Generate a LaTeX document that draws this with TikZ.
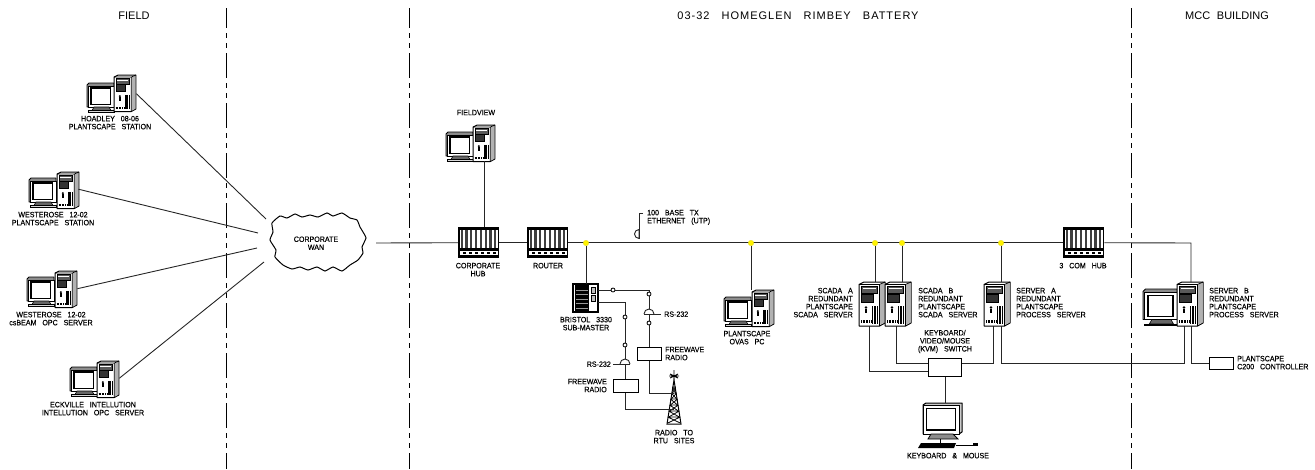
\documentclass[tikz,border=0pt]{standalone}
\usepackage{fontspec}
\usetikzlibrary{calc}
\newfontfamily\cadfont[WordSpace=3,FakeStretch=.92,FakeBold=.15]{Liberation Sans}
\newfontfamily\cadhead[WordSpace=2.2]{Liberation Sans}
\newfontfamily\cadwide[LetterSpace=9,WordSpace=3]{Liberation Sans}
\tikzset{
  lbl/.style={font=\cadfont\fontsize{7.7}{8}\selectfont,inner sep=0pt,anchor=north,align=center,yshift=-.2pt},
  lbll/.style={lbl,anchor=north west,align=left},
  lblr/.style={lbl,anchor=north east,align=right},
  head/.style={font=\cadhead\fontsize{11}{12}\selectfont,inner sep=0pt},
  headw/.style={font=\cadwide\fontsize{11}{12}\selectfont,inner sep=0pt},
  wire/.style={line width=.9pt,black!85},
  zone/.style={line width=.85pt,black,dash pattern=on 25pt off 5pt on 5pt off 5pt on 5pt off 5pt,dash phase=5pt},
  devbox/.style={inner sep=0pt,anchor=north west,minimum width=#1},
  yb/.style={circle,fill=yellow,draw=yellow!85!black,line width=.2pt,minimum size=5.6pt,inner sep=0pt},
  oc/.style={circle,fill=white,draw=black,line width=.8pt,minimum size=4pt,inner sep=0pt},
  thickbox/.style={draw=black,fill=white,line width=1.3pt,inner sep=0pt,anchor=north west},
  towerart/.pic={
    \draw[black,fill=white,line width=1pt,line join=round] (0,2.5)--(5,0)--(26,0)--(26,41)--(20.5,44)--(0,44)--cycle;
    \fill[black!30] (21,3)--(25.5,.8)--(25.5,40.5)--(21,43)--cycle;
    \draw[black,line width=.8pt] (0,2.5)--(20.5,2.5)--(20.5,44) (20.5,2.5)--(26,0);
    \draw[black,fill=black!65,line width=1pt] (2.5,4.5) rectangle (18.5,11);
    \draw[white,line width=.8pt] (4,6.4)--(17,6.4);
    \draw[black,fill=black!80,line width=1pt] (2.5,12) rectangle (14,20);
    \fill[black] (7,25.5) circle (1.4); \fill[black] (6.2,27) rectangle (7.8,31);
    \foreach \xx in {13.5,15,16.5,18}{\draw[black,line width=.8pt] (\xx,24)--(\xx,41.5);}
    \draw[black,line width=2.2pt,dash pattern=on .9pt off .7pt] (2,39.5)--(12,39.5);
  },
  monart/.pic={
    \draw[black,fill=black!45,line width=.8pt,line join=round] (0,2)--(2,0)--(27,0)--(27,24)--(0,24)--cycle;
    \draw[black,fill=white,line width=1pt] (1,3) rectangle (27,24);
    \draw[black,fill=white,line width=1.5pt] (4,5) rectangle (23.5,21.5);
    \draw[black,fill=black!60,line width=.6pt] (7,24) -- (22,24) -- (24,27.5) -- (5,27.5) -- cycle;
    \draw[black,fill=black!15,line width=.8pt] (1,27.5) rectangle (27,29);
  },
  hubart/.pic={
    \fill[black] (0,0) rectangle (41,31);
    \fill[white] (1.5,3) rectangle (39.5,20.5);
    \foreach \xx in {2.6,7.4,12.2,17,21.8,26.6,31.4,36.2}{\fill[black!75] (\xx,3) rectangle ++(2.2,17.5);}
    \fill[white] (1.5,23.5) rectangle (39.5,27.5);
    \foreach \xx in {5,11,17,23,29,35}{\fill[black] (\xx,24.5) rectangle ++(2.5,2);}
  },
  brisart/.pic={
    \draw[black,fill=white,line width=1.1pt] (0,0) rectangle (25,28);
    \fill[black] (1.5,1) rectangle (16,27);
    \foreach \yy in {6,10.5,15,19.5,24}{\draw[white!60!black,line width=.4pt] (3,\yy)--(15,\yy);}
    \draw[black,fill=black!25,line width=.8pt] (18.5,3) rectangle (22,9);
    \draw[black,fill=black!25,line width=.8pt] (18.5,11.5) rectangle (22,17.5);
  },
  kvmonart/.pic={
    \draw[black,fill=black!20,line width=1pt,line join=round] (0,2)--(3,0)--(39,0)--(39,29)--(36,31)--(0,31)--cycle;
    \draw[black,fill=white,line width=1pt] (0,2)--(36,2)--(36,31)--(0,31)--cycle;
    \draw[black,fill=white,line width=1.5pt] (3.5,5.5) rectangle (32.5,27);
    \draw[black,fill=black!45,line width=.8pt] (8,31)--(30,31)--(33,34)--(35,36)--(5,36)--cycle;
    \draw[black,line width=.9pt] (17,36)--(17,40);
    \fill[black] (-2,40)--(33,40)--(31,45)--(-5,45)--cycle;
    \draw[black,line width=.9pt] (33,42)--(50,42);
    \fill[black] (50,40) rectangle (55,43);
  },
  mastart/.pic={
    \draw[black,line width=.9pt] (-4,-1)--(4,3) (4,-1)--(-4,3) (0,-5)--(0,5) (-5,1)--(5,1);
    \draw[black,line width=1pt] (0,5)--(-7,49)--(7,49)--cycle;
    \foreach \yy/\ww in {12/1.6,18/2.6,24/3.6,30/4.4,36/5.3,42/6.2}{
      \draw[black,line width=.8pt] (-\ww,\yy)--(\ww,\yy) (-\ww,\yy)--(\ww,\yy+6) (\ww,\yy)--(-\ww,\yy+6);}
  }
}
\begin{document}
\begin{tikzpicture}[x=1pt,y=-1pt]
\useasboundingbox (0,0) rectangle (1315,469);
% zones
\coordinate (z1t) at (226,8);\coordinate (z1b) at (226,469);
\coordinate (z2t) at (409,8);\coordinate (z2b) at (409,469);
\coordinate (z3t) at (1131,8);\coordinate (z3b) at (1131,469);
\draw[zone] (z1t)--(z1b); \draw[zone] (z2t)--(z2b); \draw[zone] (z3t)--(z3b);
\node[head] (hfield) at (134,16) {FIELD};
\node[headw] (hbatt) at (798,16) {03-32 HOMEGLEN RIMBEY BATTERY};
\node[head] (hmcc) at (1227,16) {MCC BUILDING};

% cloud
\draw[black,line width=1pt,fill=white] plot[smooth cycle,tension=.3] coordinates {
(272,223)(280,216)(287,218)(295,214)(302,217)(310,215)(318,217)(327,213)(333,216)(342,213)(350,218)(357,220)(360,227)(363,232)(366,238)(362,247)(363,253)(358,260)(350,265)(342,271)(333,267)(325,271)(317,267)(308,270)(300,267)(292,269)(283,265)(275,257)(276,250)(270,240)(273,232)};
\node[lbl,anchor=center] (wan) at (316,243) {CORPORATE\\WAN};
\coordinate (wanA) at (266,219);\coordinate (wanB) at (258,233);\coordinate (wanC) at (257,248);\coordinate (wanD) at (264,262);\coordinate (wanE) at (376,243);

% PCs on the left
\node[devbox=22pt,minimum height=37pt] (hoad) at (114,75) {};
\node[devbox=21pt,minimum height=34pt] (wes1) at (57,172) {};
\node[devbox=22pt,minimum height=35pt] (wes2) at (55,271) {};
\node[devbox=22pt,minimum height=34pt] (eck) at (97,361) {};
\node[devbox=22pt,minimum height=36pt] (fview) at (473,125) {};
\node[devbox=21pt,minimum height=35pt] (ovas) at (752,290) {};
\foreach \n/\mx/\my in {hoad/87/83,wes1/29/178,wes2/27/277,eck/70/367,fview/446/132,ovas/724/297}{
  \pic[scale=1] at (\mx,\my) {monart};
  \pic[xscale=.84,yscale=.83] at (\n.north west) {towerart};
}
\node[lbl] (thoad) at (110,115.5) {HOADLEY 08-06\\PLANTSCAPE STATION};
\node[lbl] (twes1) at (53,211.5) {WESTEROSE 12-02\\PLANTSCAPE STATION};
\node[lbl] (twes2) at (51,311.5) {WESTEROSE 12-02\\csBEAM OPC SERVER};
\node[lbl] (teck) at (93,401.5) {ECKVILLE INTELLUTION\\INTELLUTION OPC SERVER};
\draw[wire] (hoad.east)--(wanA);
\draw[wire] (wes1.east)--(wanB);
\draw[wire] (wes2.east)--(wanC);
\draw[wire] (eck.east)--(wanD);

% hubs
\node[devbox=41pt,minimum height=31pt] (chub) at (458,227) {};
\node[devbox=41pt,minimum height=31pt] (router) at (527,227) {};
\node[devbox=41pt,minimum height=31pt] (comhub) at (1063,227) {};
\foreach \n in {chub,router,comhub}{\pic at (\n.north west) {hubart};}
\node[lbl] (tchub) at (478,262.5) {CORPORATE\\HUB};
\node[lbl] (trouter) at (548,262.5) {ROUTER};
\node[lbl] (tcom) at (1083,262.5) {3 COM HUB};
\node[lbl] (tfview) at (476,109.5) {FIELDVIEW};
\draw[wire] (wanE)--(chub.west);
\draw[wire] (chub.east)--(router.west);
\draw[wire] (fview.south)--(fview.south |- chub.north);

% servers
\node[devbox=26pt,minimum height=44pt] (scadaa) at (859,282) {};
\node[devbox=26pt,minimum height=44pt] (scadab) at (885,282) {};
\node[devbox=26pt,minimum height=44pt] (srva) at (984,282) {};
\node[devbox=26pt,minimum height=44pt] (srvb) at (1177,282) {};
\pic[scale=1.27] at (1143,289) {monart};
\foreach \n in {scadaa,scadab,srva,srvb}{\pic at (\n.north west) {towerart};}

% bus and taps
\coordinate (busend) at (1191,243);
\coordinate (leadtop) at (639,213);\coordinate (leadend) at (643,213);
\coordinate (hopt) at (639,238.5);\coordinate (hopb) at (639,247.5);
\draw[wire] (router.east)--(comhub.west);
\draw[wire] (comhub.east)--(busend)--(busend |- srvb.north);
\draw[wire,fill=white] (hopt) arc[start angle=-90,end angle=-270,radius=4.5pt]--cycle;
\draw[wire] (leadend)--(leadtop)--(hopt);
\node[lbll] (teth) at (647,209.5) {100 BASE TX\\ETHERNET (UTP)};
\node[yb] (d1) at (586,243) {};
\node[yb] (d2) at (751,243) {};
\node[yb] (d3) at (875,243) {};
\node[yb] (d4) at (902,243) {};
\node[yb] (d5) at (1001,243) {};

% Bristol
\node[devbox=25pt,minimum height=28pt] (bris) at (573,284) {};
\pic at (bris.north west) {brisart};
\draw[wire] (d1)--(d1 |- bris.north);
\draw[wire] (d2)--(d2 |- ovas.north);
\draw[wire] (d3)--(d3 |- scadaa.north);
\draw[wire] (d4)--(d4 |- scadab.north);
\draw[wire] (d5)--(d5 |- srva.north);
\node[lbl] (tbris) at (586,316.5) {BRISTOL 3330\\SUB-MASTER};
\node[lbl] (tovas) at (747,330.5) {PLANTSCAPE\\OVAS PC};

% radio branch
\node[thickbox,minimum width=24pt,minimum height=13pt] (fw1) at (637,347) {};
\node[thickbox,minimum width=25pt,minimum height=13pt] (fw2) at (613,379) {};
\node[devbox=14pt,minimum height=49pt] (mast) at (667,375) {};
\pic at (674,375) {mastart};
\node[lbll] (tfw1) at (665,346.5) {FREEWAVE\\RADIO};
\node[lblr] (tfw2) at (607,378.5) {FREEWAVE\\RADIO};
\node[lbl] (tmast) at (674,429.5) {RADIO TO\\RTU SITES};
\coordinate (b1) at (649,290);\coordinate (b2) at (625,302);
\coordinate (m1) at (649,393);\coordinate (m2) at (625,409);
\draw[wire] (bris.east |- b1)--(b1)--(fw1.north -| b1);
\draw[wire] (bris.east |- b2)--(b2)--(fw2.north -| b2);
\draw[wire] (fw1.south -| b1)--(m1)--(mast.center |- m1);
\draw[wire] (fw2.south -| b2)--(m2)--(mast.center |- m2);
\node[oc] (c1) at (613,290) {};
\node[oc] (c2) at (649,294) {};
\node[oc] (c3) at (649,323) {};
\node[oc] (c4) at (625,317) {};
\node[oc] (c5) at (625,345) {};
\coordinate (h1l) at (644,314);\coordinate (h1r) at (654,314);\coordinate (h1e) at (661,314);
\coordinate (h2l) at (620,364);\coordinate (h2r) at (630,364);\coordinate (h2e) at (613,364);
\draw[wire,fill=white] (h1l) arc[start angle=180,end angle=0,radius=5pt];
\draw[wire] (h1l)--(h1e);
\draw[wire,fill=white] (h2l) arc[start angle=180,end angle=0,radius=5pt];
\draw[wire] (h2r)--(h2e);
\node[lbll,anchor=west] (trs1) at (664,314) {RS-232};
\node[lblr,anchor=east] (trs2) at (611,364) {RS-232};

% KVM
\node[thickbox,minimum width=33pt,minimum height=18pt] (kvm) at (928,358) {};
\node[devbox=39pt,minimum height=31pt] (kbm) at (923,403) {};
\pic at (kbm.north west) {kvmonart};
\node[lbl] (tkvm) at (945,329.5) {KEYBOARD/\\VIDEO/MOUSE\\(KVM) SWITCH};
\node[lbl] (tkbm) at (948,452.5) {KEYBOARD \& MOUSE};
\coordinate (ka) at (869,371);\coordinate (kb) at (896,363);
\coordinate (kc) at (993,363);\coordinate (kd) at (1001,363);\coordinate (ke) at (1184,363);\coordinate (kf) at (1191,363);
\draw[wire] (ka |- scadaa.south)--(ka)--(kvm.west |- ka);
\draw[wire] (kb |- scadab.south)--(kb)--(kvm.west |- kb);
\draw[wire] (kvm.east |- kc)--(kc)--(kc |- srva.south);
\draw[wire] (kd |- srva.south)--(kd)--(ke)--(ke |- srvb.south);
\node[thickbox,minimum width=24pt,minimum height=12pt] (c200) at (1209,357) {};
\draw[wire] (kf |- srvb.south)--(kf)--(c200.west |- kf);
\draw[wire] (kvm.south)--(kvm.south |- kbm.north);
\node[lbll] (tc200) at (1237,355.5) {PLANTSCAPE\\C200 CONTROLLER};
\node[lblr] (tsa) at (853,287.5) {SCADA A\\REDUNDANT\\PLANTSCAPE\\SCADA SERVER};
\node[lbll] (tsb) at (918,287.5) {SCADA B\\REDUNDANT\\PLANTSCAPE\\SCADA SERVER};
\node[lbll] (tpa) at (1016,287.5) {SERVER A\\REDUNDANT\\PLANTSCAPE\\PROCESS SERVER};
\node[lbll] (tpb) at (1209,287.5) {SERVER B\\REDUNDANT\\PLANTSCAPE\\PROCESS SERVER};
\end{tikzpicture}
\end{document}
